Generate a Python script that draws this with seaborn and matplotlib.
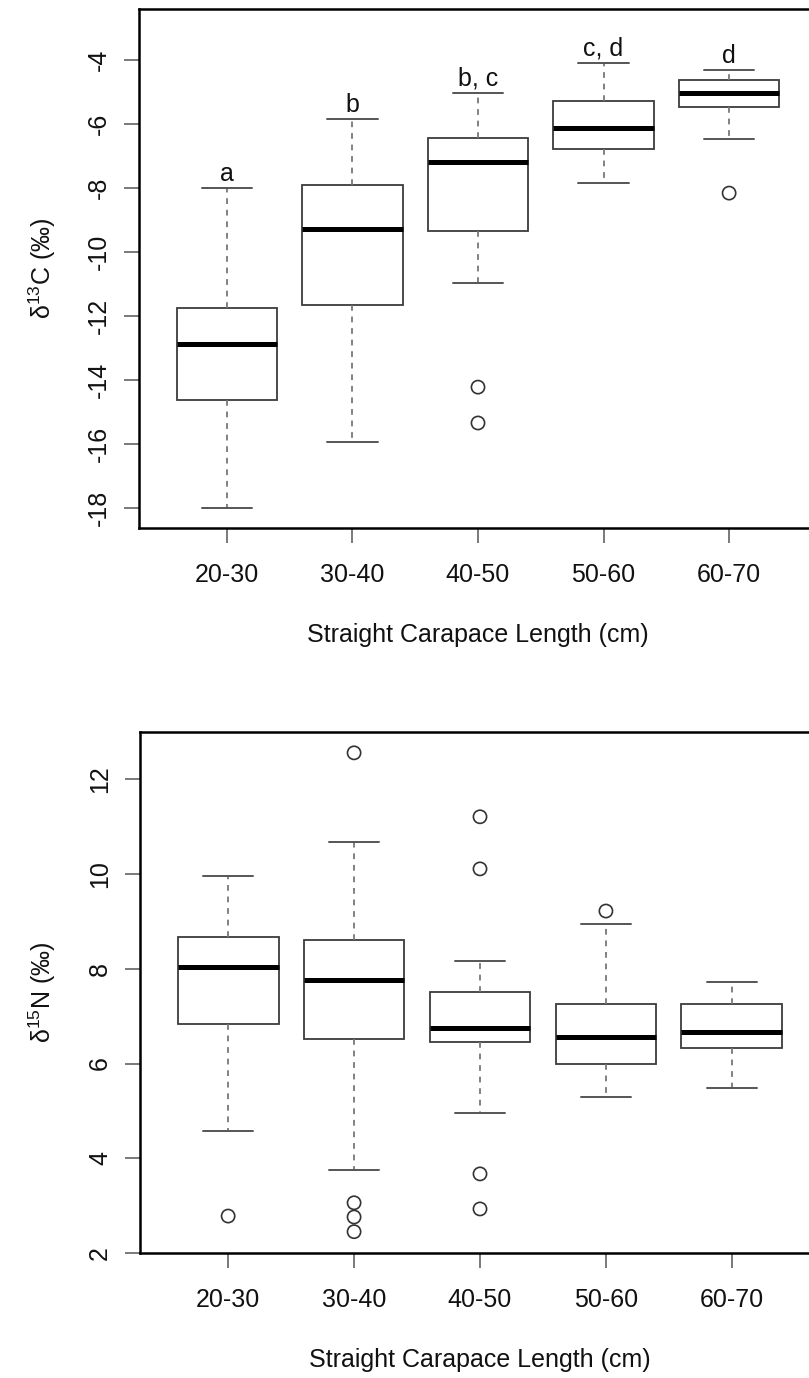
import numpy as np
import pandas as pd
import matplotlib
matplotlib.use("Agg")
import matplotlib.pyplot as plt
import seaborn as sns

# ---------------- data ----------------
categories = ["20-30", "30-40", "40-50", "50-60", "60-70"]

# delta 13C panel (five-number summaries)
c_whisker_low = [-18.00, -15.94, -10.97, -7.84, -6.47]
c_q1 = [-14.62, -11.66, -9.34, -6.78, -5.47]
c_median = [-12.88, -9.28, -7.19, -6.13, -5.03]
c_q3 = [-11.75, -7.91, -6.44, -5.28, -4.63]
c_whisker_high = [-8.00, -5.84, -5.03, -4.09, -4.31]
c_outlier_group = ["40-50", "40-50", "60-70"]
c_outlier_value = [-14.22, -15.34, -8.16]
c_letters = ["a", "b", "b, c", "c, d", "d"]
c_ticks = [-18, -16, -14, -12, -10, -8, -6, -4]

# delta 15N panel
n_whisker_low = [4.58, 3.76, 4.95, 5.29, 5.48]
n_q1 = [6.84, 6.52, 6.46, 5.99, 6.33]
n_median = [8.04, 7.77, 6.75, 6.55, 6.67]
n_q3 = [8.67, 8.60, 7.51, 7.26, 7.26]
n_whisker_high = [9.96, 10.68, 8.17, 8.95, 7.72]
n_outlier_group = ["20-30", "30-40", "30-40", "30-40", "30-40",
                   "40-50", "40-50", "40-50", "40-50", "50-60"]
n_outlier_value = [2.78, 12.56, 3.06, 2.76, 2.45,
                   11.21, 10.11, 3.67, 2.93, 9.22]
n_ticks = [2, 4, 6, 8, 10, 12]

x_title = "Straight Carapace Length (cm)"
c_title = "δ$^{13}$C (‰)"
n_title = "δ$^{15}$N (‰)"


def long_table(lo, q1, med, q3, hi):
    rows = []
    for i, cat in enumerate(categories):
        for v in (lo[i], q1[i], med[i], q3[i], hi[i]):
            rows.append({"size": cat, "value": v})
    return pd.DataFrame(rows)


c_df = long_table(c_whisker_low, c_q1, c_median, c_q3, c_whisker_high)
n_df = long_table(n_whisker_low, n_q1, n_median, n_q3, n_whisker_high)
c_out = pd.DataFrame({"size": c_outlier_group, "value": c_outlier_value})
n_out = pd.DataFrame({"size": n_outlier_group, "value": n_outlier_value})

# ---------------- style ----------------
sns.set_theme(style="ticks")
plt.rcParams["font.family"] = ["Liberation Sans", "DejaVu Sans"]
plt.rcParams["mathtext.fontset"] = "custom"
plt.rcParams["mathtext.rm"] = "Liberation Sans"
plt.rcParams["mathtext.it"] = "Liberation Sans:italic"
plt.rcParams["mathtext.bf"] = "Liberation Sans:bold"

W, H = 809, 1378
fig = plt.figure(figsize=(W / 100, H / 100), dpi=100)
ax1 = fig.add_axes([139 / W, 1 - 528 / H, (817 - 139) / W, (528 - 9) / H])
ax2 = fig.add_axes([140 / W, 1 - 1253 / H, (820 - 140) / W, (1253 - 732) / H])

line_col = "#3c3c3c"
box_kws = dict(
    order=categories, whis=(0, 100), width=0.8, showfliers=False,
    color="white", linecolor=line_col, linewidth=1.3,
    medianprops=dict(color="black", linewidth=3.6),
    whiskerprops=dict(color="#777777", linestyle=(0, (3.2, 3.2)), linewidth=1.3),
    capprops=dict(color="#555555", linewidth=1.4),
)


def draw(ax, df, out, ylim, ticks, ylabel):
    sns.boxplot(data=df, x="size", y="value", ax=ax, **box_kws)
    sns.stripplot(data=out, x="size", y="value", order=categories, ax=ax,
                  jitter=False, size=9.5, marker="o", linewidth=1.2)
    for coll in ax.collections:
        coll.set_facecolor("none")
        coll.set_edgecolor("#333333")
    ax.set_xlim(-0.7, 4.7)
    ax.set_ylim(*ylim)
    ax.set_yticks(ticks)
    ax.set_yticklabels([str(t) for t in ticks])
    ax.tick_params(axis="y", labelrotation=90, length=11, width=1.1,
                   color="#555555", labelsize=18, pad=9, labelcolor="#111111")
    ax.tick_params(axis="x", length=11, width=1.1, color="#555555",
                   labelsize=18, pad=14, labelcolor="#111111")
    for lab in ax.get_yticklabels():
        lab.set_verticalalignment("center")
    ax.set_xlabel(x_title, fontsize=18, color="#111111", labelpad=26)
    ax.set_ylabel(ylabel, fontsize=18, color="#111111")
    ax.yaxis.set_label_coords(-0.12, 0.5)
    for s in ["left", "top", "bottom", "right"]:
        ax.spines[s].set_visible(True)
        ax.spines[s].set_color("black")
        ax.spines[s].set_linewidth(1.8)
    ax.grid(False)


draw(ax1, c_df, c_out, (-18.62, -2.41), c_ticks, c_title)
draw(ax2, n_df, n_out, (2.0, 13.0), n_ticks, n_title)

for i, lab in enumerate(c_letters):
    ax1.text(i, c_whisker_high[i] + 0.22, lab, ha="center", va="baseline",
             fontsize=18, color="#111111")

fig.savefig("out.png", dpi=100)
